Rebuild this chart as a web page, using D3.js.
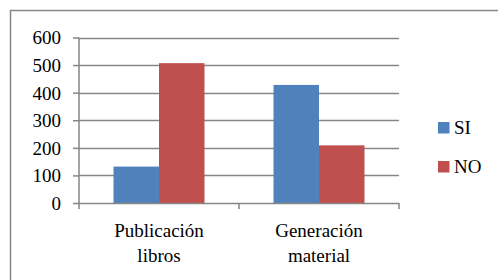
<!DOCTYPE html>
<html><head><meta charset="utf-8">
<script src="https://cdn.jsdelivr.net/npm/d3@7"></script>
<style>text{font-family:"Liberation Serif";}</style>
</head><body style="margin:0">
<svg id="c" width="498" height="280"></svg>
<script>
const categories = [["Publicación","libros"],["Generación","material"]];
const seriesNames = ["SI","NO"];
const siValues = [132, 428];
const noValues = [507, 209];
const yTicks = [0,100,200,300,400,500,600];
const colors = ["#4F81BD","#C0504D"];

const svg = d3.select("#c");
const gridColor = "#868686";

svg.append("rect").attr("x",10.5).attr("y",10.5).attr("width",500).attr("height",300)
  .attr("fill","none").attr("stroke",gridColor).attr("stroke-width",1.5);

const pLeft=79, pRight=399, pTop=37.5, pBottom=203;
const x0 = d3.scaleBand().domain(d3.range(categories.length)).range([pLeft,pRight]);
const y = d3.scaleLinear().domain([0,600]).range([pBottom,pTop]);

svg.append("g").selectAll("line").data(yTicks.filter(d=>d>0)).join("line")
  .attr("x1",pLeft).attr("x2",pRight).attr("y1",d=>Math.round(y(d))+0.5).attr("y2",d=>Math.round(y(d))+0.5)
  .attr("stroke",gridColor).attr("stroke-width",1.5);

const data = [siValues, noValues];
const groupW = x0.bandwidth();
const barW = 45.5;
const gBars = svg.append("g");
categories.forEach((c,i)=>{
  const cx = x0(i)+groupW/2;
  data.forEach((vals,s)=>{
    gBars.append("rect")
      .attr("x", cx - barW + s*barW)
      .attr("y", y(vals[i]))
      .attr("width", barW)
      .attr("height", y(0)-y(vals[i]))
      .attr("fill", colors[s]);
  });
});

const yAxis = d3.axisLeft(y).tickValues(yTicks).tickSize(6).tickPadding(12);
const gy = svg.append("g").attr("transform",`translate(${pLeft},0)`).call(yAxis);
gy.attr("font-family",null).attr("font-size",null);
gy.selectAll("path,line").attr("stroke",gridColor).attr("stroke-width",1.5);
gy.select(".domain").attr("d",`M0,${pTop}V${pBottom}`);
gy.selectAll("text").style("font-size","19px").attr("fill","#000").attr("dy","0.34em");

const gx = svg.append("g").attr("transform",`translate(0,${pBottom})`);
gx.append("line").attr("x1",pLeft).attr("x2",pRight).attr("y1",0.5).attr("y2",0.5).attr("stroke",gridColor).attr("stroke-width",1.5);
[0,1,2].forEach(i=>{
  const xx = pLeft + i*groupW;
  gx.append("line").attr("x1",xx).attr("x2",xx).attr("y1",0).attr("y2",6).attr("stroke",gridColor).attr("stroke-width",1.5);
});
categories.forEach((c,i)=>{
  c.forEach((line,k)=>{
    gx.append("text").attr("text-anchor","middle").attr("x",x0(i)+groupW/2).attr("y",34+k*25)
      .style("font-size","19px").attr("fill","#000").text(line);
  });
});

seriesNames.forEach((n,i)=>{
  const ly = 122 + i*39;
  svg.append("rect").attr("x",438).attr("y",ly).attr("width",11.5).attr("height",11.5).attr("fill",colors[i]);
  svg.append("text").attr("x",454).attr("y",ly+12).style("font-size","19px").attr("fill","#000").text(n);
});
</script>
</body></html>
